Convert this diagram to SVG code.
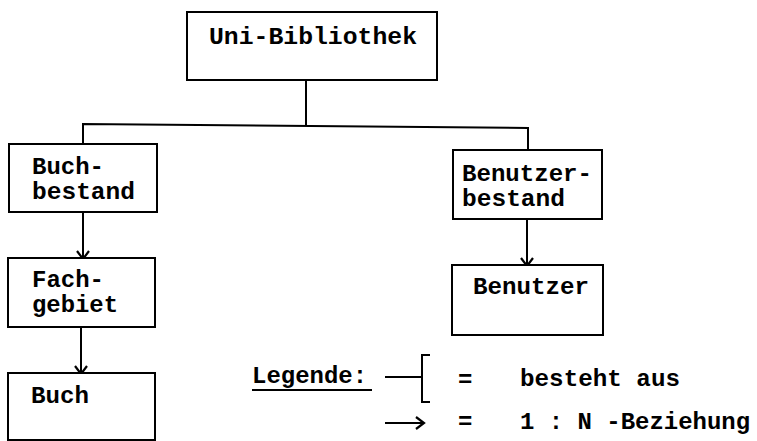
<svg xmlns="http://www.w3.org/2000/svg" width="757" height="441" viewBox="0 0 757 441">
<defs>
<style>
.box{fill:#fff;stroke:#000;stroke-width:2}
.t{font-family:"Liberation Mono","Courier New",monospace;font-size:24px;font-weight:bold;fill:#000}
.ln{stroke:#000;stroke-width:2;fill:none}
</style>
<marker id="v" markerUnits="userSpaceOnUse" markerWidth="20" markerHeight="20" refX="0" refY="0" orient="auto" overflow="visible" viewBox="-10 -10 20 20">
<path d="M-8,-6 L0,0 L-8,6" fill="none" stroke="#000" stroke-width="2.2"/>
</marker>
</defs>
<rect width="757" height="441" fill="#fff"/>
<g id="connectors">
<path class="ln" d="M306,80 V126"/>
<path class="ln" d="M83,144 V124 L528,128 V150"/>
<path class="ln" d="M83,212 V259" marker-end="url(#v)"/>
<path class="ln" d="M81,327 V374" marker-end="url(#v)"/>
<path class="ln" d="M527,219 V266" marker-end="url(#v)"/>
</g>
<g id="uni-bibliothek">
<rect class="box" x="187" y="12" width="250" height="68"/>
<text class="t" x="209" y="44" textLength="208" lengthAdjust="spacingAndGlyphs">Uni-Bibliothek</text>
</g>
<g id="buchbestand">
<rect class="box" x="9" y="144" width="148" height="68"/>
<text class="t" x="32" y="174" textLength="72" lengthAdjust="spacingAndGlyphs">Buch-</text>
<text class="t" x="32" y="199" textLength="103" lengthAdjust="spacingAndGlyphs">bestand</text>
</g>
<g id="fachgebiet">
<rect class="box" x="8" y="258" width="147" height="69"/>
<text class="t" x="32" y="287" textLength="72" lengthAdjust="spacingAndGlyphs">Fach-</text>
<text class="t" x="32" y="312" textLength="86" lengthAdjust="spacingAndGlyphs">gebiet</text>
</g>
<g id="buch">
<rect class="box" x="8" y="373" width="147" height="67"/>
<text class="t" x="31" y="403" textLength="58" lengthAdjust="spacingAndGlyphs">Buch</text>
</g>
<g id="benutzerbestand">
<rect class="box" x="453" y="150" width="149" height="69"/>
<text class="t" x="462" y="181" textLength="130" lengthAdjust="spacingAndGlyphs">Benutzer-</text>
<text class="t" x="462" y="206" textLength="103" lengthAdjust="spacingAndGlyphs">bestand</text>
</g>
<g id="benutzer">
<rect class="box" x="452" y="265" width="151" height="70"/>
<text class="t" x="473" y="294" textLength="116" lengthAdjust="spacingAndGlyphs">Benutzer</text>
</g>
<g id="legende">
<text class="t" x="252" y="383" textLength="115" lengthAdjust="spacingAndGlyphs">Legende:</text>
<path class="ln" d="M252,390 H372"/>
<path class="ln" d="M385,377 H422 M430,355 H422 V402 H430"/>
<text class="t" x="458" y="387">=</text>
<text class="t" x="520" y="386" textLength="160" lengthAdjust="spacingAndGlyphs">besteht aus</text>
<path class="ln" d="M385,423 H424" marker-end="url(#v)"/>
<text class="t" x="458" y="429">=</text>
<text class="t" x="520" y="429" textLength="230" lengthAdjust="spacingAndGlyphs">1 : N -Beziehung</text>
</g>
</svg>
